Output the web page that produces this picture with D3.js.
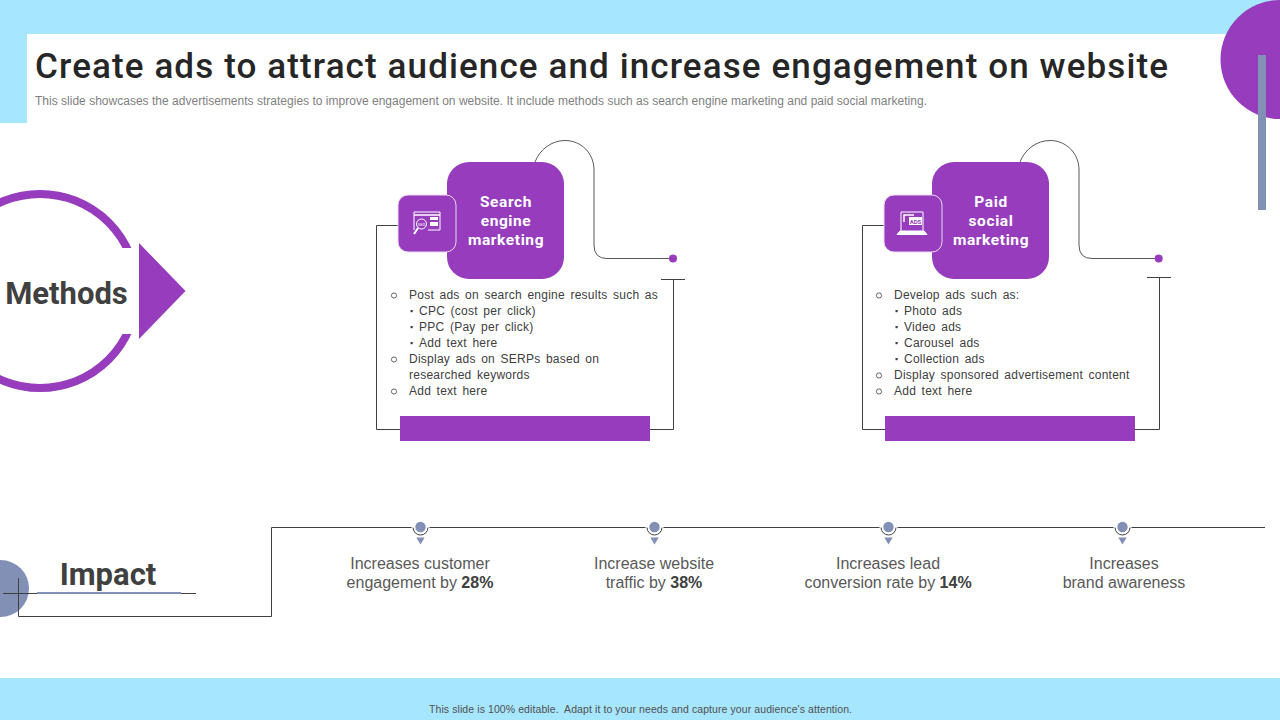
<!DOCTYPE html>
<html>
<head>
<meta charset="utf-8">
<style>
  html, body { margin: 0; padding: 0; background: #fff; }
  svg { display: block; }
  .body { font-family: "Liberation Sans", Arial, sans-serif; }
  .din { font-family: Roboto, sans-serif; }
</style>
</head>
<body>
<svg id="canvas" width="1280" height="720"></svg>
<script src="https://cdn.jsdelivr.net/npm/d3@7"></script>
<script>
var titleText = 'Create ads to attract audience and increase engagement on website';
var subtitleText = 'This slide showcases the advertisements strategies to improve engagement on website. It include methods such as search engine marketing and paid social marketing.';
var footerText = 'This slide is 100% editable.  Adapt it to your needs and capture your audience\'s attention.';

var methodNames = ['Search engine marketing', 'Paid social marketing'];
var methodHeadings = [['Search', 'engine', 'marketing'], ['Paid', 'social', 'marketing']];
// level 0 = round bullet, level 1 = small square bullet, level 2 = wrapped line
var methodLines = [
  [
    [0, 'Post ads on search engine results such as'],
    [1, 'CPC (cost per click)'],
    [1, 'PPC (Pay per click)'],
    [1, 'Add text here'],
    [0, 'Display ads on SERPs based on'],
    [2, 'researched keywords'],
    [0, 'Add text here'],
  ],
  [
    [0, 'Develop ads such as:'],
    [1, 'Photo ads'],
    [1, 'Video ads'],
    [1, 'Carousel ads'],
    [1, 'Collection ads'],
    [0, 'Display sponsored advertisement content'],
    [0, 'Add text here'],
  ],
];

var impactNames = ['customer', 'traffic', 'lead', 'brand'];
var impactFirst = ['Increases customer', 'Increase website', 'Increases lead', 'Increases'];
var impactSecond = ['engagement by ', 'traffic by ', 'conversion rate by ', 'brand awareness'];
var impactValues = ['28%', '38%', '14%', ''];

var purple = '#963cbd';
var slate = '#8390b5';
var sky = '#a6e6ff';
var ink = '#404040';

var svg = d3.select('#canvas');

var panelX = d3.scaleOrdinal().domain(methodNames).range([0, 485]);
var impactX = d3.scalePoint().domain(impactNames).range([420.5, 1122.5]);
var lineY = d3.scaleLinear().domain([0, 6]).range([299, 395]);

function rect(g, x, y, w, h, fill) {
  return g.append('rect').attr('x', x).attr('y', y).attr('width', w).attr('height', h).attr('fill', fill);
}

function stroke(g, d, color) {
  return g.append('path').attr('d', d).attr('fill', 'none').attr('stroke', color || ink).attr('stroke-width', 1);
}

function drawFrame() {
  rect(svg, 0, 0, 1280, 34, sky);
  rect(svg, 0, 0, 27, 123, sky);
  rect(svg, 0, 678, 1280, 42, sky);
  svg.append('circle').attr('cx', 1280).attr('cy', 59.5).attr('r', 59.5).attr('fill', purple);
  rect(svg, 1258, 55, 8, 155, slate);

  svg.append('text').attr('class', 'din').attr('x', 35).attr('y', 78)
    .style('font-size', '35px').style('font-weight', 500)
    .attr('textLength', 1133).attr('lengthAdjust', 'spacing')
    .attr('fill', '#262626').text(titleText);
  svg.append('text').attr('class', 'body').attr('x', 35).attr('y', 105)
    .style('font-size', '12px').attr('fill', '#7f7f7f')
    .attr('textLength', 892).attr('lengthAdjust', 'spacing').text(subtitleText);
  svg.append('text').attr('class', 'body').attr('x', 429).attr('y', 712.5)
    .style('font-size', '10.5px').style('white-space', 'pre')
    .attr('textLength', 423).attr('lengthAdjust', 'spacing')
    .attr('fill', '#505050').text(footerText);
}

function drawMethodsBadge() {
  var g = svg.append('g');
  g.append('circle').attr('cx', 40).attr('cy', 291).attr('r', 97)
    .attr('fill', 'none').attr('stroke', purple).attr('stroke-width', 8);
  rect(g, 0, 248, 145, 86, '#fff');
  g.append('path').attr('d', 'M139,243L185.5,291L139,339Z').attr('fill', purple);
  g.append('text').attr('class', 'din').attr('x', 66.5).attr('y', 304)
    .attr('text-anchor', 'middle').style('font-size', '31px').style('font-weight', 700)
    .attr('fill', ink).text('Methods');
}

function drawSearchIcon(g) {
  var ic = g.append('g').attr('fill', 'none').attr('stroke', '#fff').attr('stroke-width', 1);
  ic.append('path').attr('d', 'M414,230V212H440V230H428');
  ic.append('path').attr('d', 'M414,215H440').attr('stroke-width', 1.5);
  ic.append('circle').attr('cx', 421.5).attr('cy', 224).attr('r', 5);
  ic.append('path').attr('d', 'M418,228L414,234').attr('stroke-width', 2);
  g.append('text').attr('class', 'din').attr('x', 421.5).attr('y', 225.5).attr('text-anchor', 'middle')
    .style('font-size', '4px').attr('fill', '#fff').text('SEO');
  rect(g, 430, 217, 8, 3, '#fff');
  rect(g, 430, 222, 8, 4, '#fff');
}

function drawAdsIcon(g) {
  var ic = g.append('g').attr('fill', 'none').attr('stroke', '#fff').attr('stroke-width', 1);
  ic.append('path').attr('d', 'M416,231V212H438V231');
  ic.append('path').attr('d', 'M412,234.5H442L439,231H415Z').attr('fill', '#fff');
  ic.append('path').attr('d', 'M419,222V215H429').attr('stroke-width', 1.5);
  g.append('rect').attr('x', 424).attr('y', 217).attr('width', 13).attr('height', 8).attr('fill', '#fff');
  g.append('text').attr('class', 'din').attr('x', 430.5).attr('y', 223.5).attr('text-anchor', 'middle')
    .style('font-size', '6px').style('font-weight', 700).attr('fill', purple).text('ADS');
}

function drawPanel(name, i) {
  var g = svg.append('g').attr('transform', 'translate(' + panelX(name) + ',0)');
  var tickY = i === 0 ? 279.5 : 277.5;

  // connector lines behind the boxes, the second panel's sit one pixel further right
  stroke(g, 'M535,162C540,149 552,140.5 565,140.5C581,140.5 594,153 594,170V245Q594,258.5 607,258.5H673', '#595959');
  g.append('circle').attr('cx', 673 + i * 0.7).attr('cy', 258.5).attr('r', 4).attr('fill', purple);
  stroke(g, 'M' + (661 + i) + ',' + tickY + 'H' + (685 + i) + 'M' + (673.5 + i) + ',' + tickY + 'V429.5H650');
  stroke(g, 'M400,225.5H' + (376.5 + i) + 'V429.5H400');

  g.append('rect').attr('x', 447).attr('y', 162).attr('width', 117).attr('height', 117)
    .attr('rx', 22).attr('fill', purple);
  g.append('rect').attr('x', 398 + i).attr('y', 195).attr('width', 58).attr('height', 57)
    .attr('rx', 10).attr('fill', purple).attr('stroke', '#e9d8f2').attr('stroke-width', 1);

  if (i === 0) {
    drawSearchIcon(g);
  } else {
    drawAdsIcon(g);
  }

  g.selectAll('.heading').data(methodHeadings[i]).enter().append('text')
    .attr('class', 'din heading').attr('x', 506).attr('y', (d, k) => 207 + k * 19)
    .attr('text-anchor', 'middle').style('font-size', '15.5px').style('font-weight', 700)
    .style('letter-spacing', '0.6px').attr('fill', '#fff').text(d => d);

  var rows = g.selectAll('.row').data(methodLines[i]).enter().append('g').attr('class', 'row body');
  rows.filter(d => d[0] === 0).append('circle')
    .attr('cx', 394).attr('cy', d => lineY(methodLines[i].indexOf(d)) - 3.5).attr('r', 2.6)
    .attr('fill', 'none').attr('stroke', ink).attr('stroke-width', 0.8);
  rows.filter(d => d[0] === 1).append('rect')
    .attr('x', 410.5).attr('y', d => lineY(methodLines[i].indexOf(d)) - 5)
    .attr('width', 2.2).attr('height', 2.2).attr('fill', ink);
  rows.append('text')
    .attr('x', d => (d[0] === 1 ? 419 : 409)).attr('y', d => lineY(methodLines[i].indexOf(d)))
    .style('font-size', '12px').style('letter-spacing', '0.25px').style('word-spacing', '1.9px')
    .attr('fill', ink).text(d => d[1]);

  rect(g, 400, 416, 250, 25, purple);
}

function drawImpact() {
  var g = svg.append('g');
  g.append('circle').attr('cx', 0.5).attr('cy', 588.5).attr('r', 28.5).attr('fill', slate);
  stroke(g, 'M3,593.5H196');
  rect(g, 37, 592, 144, 2, slate);
  stroke(g, 'M18.5,578V616.5H271.5V527.5H1265');
  g.append('text').attr('class', 'din').attr('x', 108).attr('y', 585)
    .attr('text-anchor', 'middle').style('font-size', '31px').style('font-weight', 700)
    .attr('fill', ink).text('Impact');

  var items = g.selectAll('.impact').data(impactNames).enter().append('g').attr('class', 'impact')
    .attr('transform', d => 'translate(' + impactX(d) + ',0)');
  items.append('rect').attr('x', -9).attr('y', 526).attr('width', 18).attr('height', 3).attr('fill', '#fff');
  items.append('path').attr('d', 'M-7.5,527.5A7.5,7.5 0 0 0 7.5,527.5')
    .attr('fill', 'none').attr('stroke', ink).attr('stroke-width', 1);
  items.append('circle').attr('cy', 527).attr('r', 5.2).attr('fill', slate);
  items.append('path').attr('d', 'M-4.2,537.5H4.2L0,544.5Z').attr('fill', slate);
  items.append('text').attr('class', 'body').attr('x', (d, i) => (i === 3 ? 1.5 : -0.5)).attr('y', 569).attr('text-anchor', 'middle')
    .style('font-size', '16px').attr('fill', '#595959').text((d, i) => impactFirst[i]);
  var second = items.append('text').attr('class', 'body').attr('x', (d, i) => (i === 3 ? 1.5 : -0.5)).attr('y', 588).attr('text-anchor', 'middle')
    .style('font-size', '16px').style('white-space', 'pre').attr('fill', '#595959');
  second.append('tspan').text((d, i) => impactSecond[i]);
  second.append('tspan').style('font-weight', 700).attr('fill', ink).text((d, i) => impactValues[i]);
}

drawFrame();
drawMethodsBadge();
methodNames.forEach(drawPanel);
drawImpact();
</script>
</body>
</html>
